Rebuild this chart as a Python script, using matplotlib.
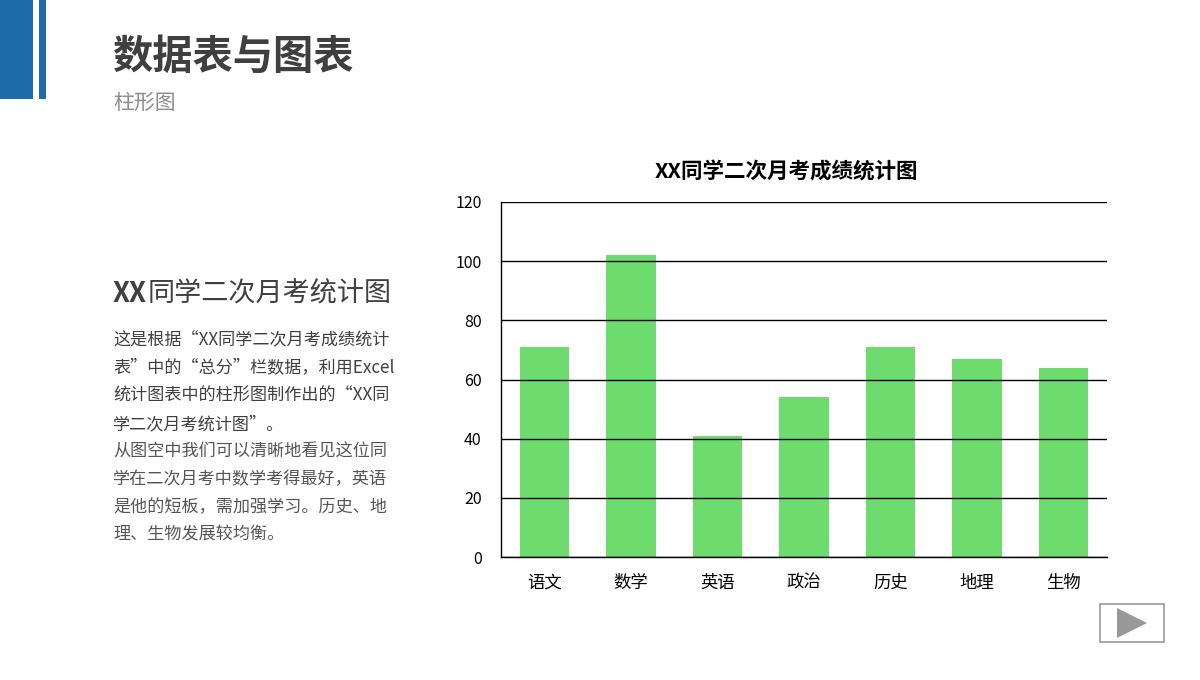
import matplotlib
matplotlib.use("Agg")
import matplotlib.pyplot as plt
from matplotlib.patches import Rectangle, Polygon

plt.rcParams['font.family'] = ['Noto Sans CJK SC', 'DejaVu Sans']

categories = ["语文", "数学", "英语", "政治", "历史", "地理", "生物"]
scores = [71, 102, 41, 54, 71, 67, 64]
yticks = [0, 20, 40, 60, 80, 100, 120]

title = "数据表与图表"
subtitle = "柱形图"
chart_title = "XX同学二次月考成绩统计图"
side_heading_a = "XX"
side_heading_b = "同学二次月考统计图"
para1 = ["这是根据“XX同学二次月考成绩统计",
         "表”中的“总分”栏数据，利用Excel",
         "统计图表中的柱形图制作出的“XX同",
         "学二次月考统计图”。"]
para2 = ["从图空中我们可以清晰地看见这位同",
         "学在二次月考中数学考得最好，英语",
         "是他的短板，需加强学习。历史、地",
         "理、生物发展较均衡。"]

W, H = 1200, 680
fig = plt.figure(figsize=(12, 6.8), dpi=100)
fig.patch.set_facecolor("white")

def fx(px):
    return px / W

def fy(py):
    return 1 - py / H

# decorative blue bars
fig.add_artist(Rectangle((fx(0), fy(99)), fx(33), 99 / H, transform=fig.transFigure,
                         facecolor="#1f6aa8", edgecolor="none"))
fig.add_artist(Rectangle((fx(39), fy(99)), fx(7), 99 / H, transform=fig.transFigure,
                         facecolor="#1f6aa8", edgecolor="none"))

fig.text(fx(112), fy(57), title, fontsize=29, fontweight="bold", color="#3f3f3f",
         va="center", ha="left")
fig.text(fx(113), fy(103), subtitle, fontsize=15, color="#8c8c8c", va="center", ha="left")

# side heading (XX bold)
ta = fig.text(fx(113), fy(294), side_heading_a, fontsize=19.5, fontweight="bold",
              color="#404040", va="center", ha="left")
renderer = fig.canvas.get_renderer()
bb = ta.get_window_extent(renderer=renderer)
fig.text(bb.x1 / W + fx(1), fy(294), side_heading_b, fontsize=19.5, color="#404040",
         va="center", ha="left")

y0 = 340
for i, line in enumerate(para1):
    fig.text(fx(113), fy(y0 + 28 * i), line, fontsize=12.3, color="#404040",
             va="center", ha="left")
y1 = 452
for i, line in enumerate(para2):
    fig.text(fx(113), fy(y1 + 27.5 * i), line, fontsize=12.3, color="#555555",
             va="center", ha="left")

# chart
ax = fig.add_axes([fx(501), fy(557), fx(1107 - 501), (557 - 202) / H])
x = range(len(categories))
ax.bar(x, scores, width=0.57, color="#6edb6e", zorder=2)
ax.set_ylim(0, 120)
ax.set_xlim(-0.5, len(categories) - 0.5)
ax.set_yticks(yticks)
ax.set_yticklabels([str(v) for v in yticks], fontsize=11.5, color="#000000")
ax.set_xticks(list(x))
ax.set_xticklabels(categories, fontsize=12.5, color="#000000")
ax.tick_params(axis="both", length=0)
ax.tick_params(axis="y", pad=14)
ax.tick_params(axis="x", pad=12)
ax.yaxis.grid(True, color="#000000", linewidth=1.0, zorder=3)
ax.set_axisbelow(False)
for s in ["top", "right"]:
    ax.spines[s].set_visible(False)
ax.spines["left"].set_color("#000000")
ax.spines["bottom"].set_color("#000000")
ax.spines["left"].set_linewidth(1.0)
ax.spines["bottom"].set_linewidth(1.0)
fig.text(fx(786), fy(172), chart_title, fontsize=15.5, fontweight="bold", color="#000000",
         ha="center", va="center")

# play button
fig.add_artist(Rectangle((fx(1100), fy(642)), fx(64), 38 / H, transform=fig.transFigure,
                         facecolor="white", edgecolor="#999999", linewidth=1.2))
fig.add_artist(Polygon([(fx(1117), fy(608)), (fx(1117), fy(638)), (fx(1147), fy(623))],
                       closed=True, transform=fig.transFigure,
                       facecolor="#999999", edgecolor="none"))

fig.savefig("out.png", dpi=100)
